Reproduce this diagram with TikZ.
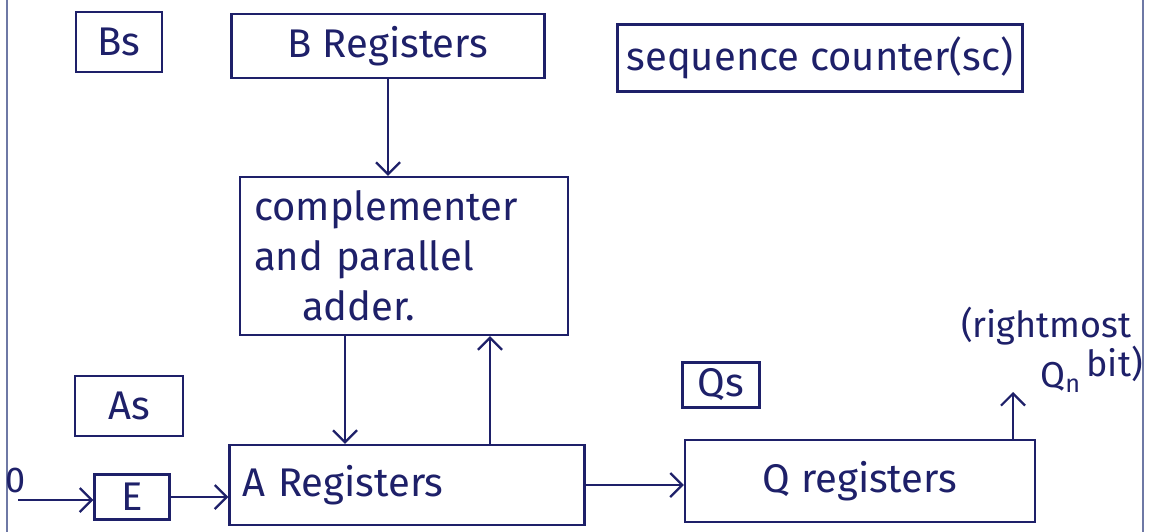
\documentclass[tikz,border=0pt]{standalone}
\usepackage{fontspec}
\setmainfont{Fira Sans}
\usetikzlibrary{arrows.meta,positioning}
\definecolor{ink}{RGB}{30,32,105}
\definecolor{margin}{RGB}{110,120,165}
\tikzset{
  blk/.style={draw=ink, line width=2.4pt, inner sep=0pt, text=ink,
    font=\fontsize{40}{50}\selectfont},
  arr/.style={draw=ink, line width=2.2pt,
    -{Straight Barb[length=12pt,width=24pt,line width=2.2pt]}},
  lbl/.style={text=ink, inner sep=0pt, font=\fontsize{36}{44}\selectfont}
}
\begin{document}
\begin{tikzpicture}[x=1pt,y=-1pt]
\useasboundingbox (0,0) rectangle (1174,532);
% ruled page margins
\draw[margin, line width=1.4pt] (7,0) -- (7,532);
\draw[margin, line width=1.4pt] (1143,0) -- (1143,532);

% register blocks
\node[blk, minimum width=86pt,  minimum height=60pt] (bs)   at (119,42)  {Bs};
\node[blk, minimum width=313pt, minimum height=64pt] (breg) at (388,46)  {B Registers};
\node[blk, minimum width=405pt, minimum height=67pt] (sc)   at (820,58)  {sequence counter(sc)};
\node[blk, minimum width=328pt, minimum height=158pt, text width=300pt, align=left] (comp) at (404,256)
  {complementer\\and parallel\\\hspace{1.2em}adder.};
\node[blk, minimum width=108pt, minimum height=60pt] (as)   at (129,406) {As};
\node[blk, minimum width=77pt,  minimum height=45pt] (qs)   at (721,385) {Qs};
\node[blk, minimum width=75pt,  minimum height=45pt] (e)    at (132,497) {E};
\node[blk, minimum width=355pt, minimum height=80pt, text width=330pt, align=left] (areg) at (407,485) {A Registers};
\node[blk, minimum width=350pt, minimum height=82pt] (qreg) at (860,481) {Q registers};

% serial input and rightmost bit
\node[lbl] (zero) at (16,480) {0};
\coordinate (in0) at (18,500);
\coordinate (qn) at (1013,392);
\node[lbl, align=left] (qnlbl) at (1052,350)
  {(rightmost\\\hspace{2.2em}Q\textsubscript{n}\,\raisebox{0.3em}{bit)}};

% data paths
\draw[arr] (breg.south) -- (breg.south |- comp.north);
\draw[arr] ([xshift=-59pt]comp.south) -- ([xshift=-59pt]comp.south |- areg.north);
\draw[arr] ([xshift=83pt]areg.north) -- ([xshift=83pt]areg.north |- comp.south);
\draw[arr] (in0) -- (in0 -| e.west);
\draw[arr] (e.east) -- (e.east -| areg.west);
\draw[arr] (areg.east) -- (areg.east -| qreg.west);
\draw[arr] ([xshift=153pt]qreg.north) -- (qn);
\end{tikzpicture}
\end{document}
